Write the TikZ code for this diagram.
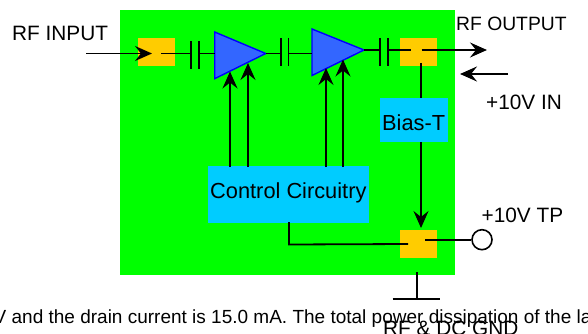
\documentclass[tikz,border=0pt]{standalone}
\usepackage{fontspec}
\setmainfont{Liberation Sans}
\usetikzlibrary{arrows.meta}
\definecolor{boardgreen}{RGB}{0,255,0}
\definecolor{padorange}{RGB}{255,204,0}
\definecolor{boxblue}{RGB}{0,204,255}
\definecolor{ampblue}{RGB}{51,102,255}
\tikzset{
  wire/.style={line width=1.8pt},
  feed/.style={line width=1.8pt,-{Stealth[length=17pt,width=15pt,inset=6pt]}},
  pad/.style={fill=padorange,minimum width=37pt,minimum height=28pt,inner sep=0pt},
  ctrl/.style={fill=boxblue,inner sep=0pt},
  amp/.style={draw=blue,fill=ampblue,line width=1.4pt},
  lbl/.style={inner sep=0pt,anchor=base west},
  big/.style={font=\fontsize{20.8}{25}\selectfont},
  bigger/.style={font=\fontsize{21.8}{26}\selectfont}
}
\begin{document}
\begin{tikzpicture}[x=1pt,y=-1pt]
\useasboundingbox (0,0) rectangle (588,334);

% Board
\fill[boardgreen] (120,10) rectangle (455,275);

% Pads
\node[pad] (padin) at (156,52) {};
\node[pad] (padout) at (418.5,52) {};
\node[pad] (padgnd) at (418.5,244) {};

% Boxes
\node[ctrl,minimum width=68pt,minimum height=44pt] (biast) at (414,120) {};
\node[ctrl,minimum width=161pt,minimum height=57pt] (control) at (288.5,194.5) {};

% Amplifiers
\coordinate (ampa) at (214.7,53.5);
\coordinate (ampaout) at (265.7,53.5);
\draw[amp] (214.7,32) -- (ampaout) -- (214.7,78.7) -- cycle;
\coordinate (ampb) at (312,53.5);
\coordinate (ampbout) at (364,50);
\draw[amp] (312,29) -- (ampbout) -- (312,75.5) -- cycle;

% Capacitors
\coordinate (capa) at (191,53.5);
\coordinate (capb) at (199,53.5);
\coordinate (capc) at (281,53.5);
\coordinate (capd) at (288.5,53.5);
\coordinate (cape) at (380,50);
\coordinate (capf) at (388,50);
\draw[wire] (191,41.5) -- (191,69);
\draw[wire] (199,41.5) -- (199,69);
\draw[wire] (281,38) -- (281,66);
\draw[wire] (288.5,38) -- (288.5,66);
\draw[wire] (380,38) -- (380,66);
\draw[wire] (388,38) -- (388,66);

% RF path
\coordinate (rfin) at (86,53.5);
\coordinate (rfintip) at (152,53.5);
\coordinate (rfstart) at (161,53.5);
\draw[feed] (rfin) -- (rfintip);
\draw[wire] (rfstart) -- (capa);
\draw[wire] (capb) -- (ampa);
\draw[wire] (ampaout) -- (capc);
\draw[wire] (capd) -- (ampb);
\draw[wire] (ampbout) -- (cape);
\coordinate (padoutl) at (411,50);
\coordinate (padoutr) at (421.5,50);
\coordinate (rfout) at (487,50);
\draw[wire] (capf) -- (padoutl);
\draw[feed] (padoutr) -- (rfout);

% Supply
\coordinate (supply) at (508,74);
\coordinate (supplytip) at (460,74);
\draw[feed] (supply) -- (supplytip);

% Control lines
\coordinate (gatea) at (230,71.5);
\coordinate (gateb) at (248,63);
\coordinate (gatec) at (326,68);
\coordinate (gated) at (343,59.5);
\draw[feed] (230,167) -- (gatea);
\draw[feed] (248,167) -- (gateb);
\draw[feed] (326,167) -- (gatec);
\draw[feed] (343,167) -- (gated);

% Bias lines
\draw[wire] (421,63) -- (421,98);
\coordinate (padgndtop) at (421,228);
\draw[feed] (421,142) -- (padgndtop);
\coordinate (ctrlout) at (289,222);
\coordinate (padgndl) at (408,244);
\draw[wire] (ctrlout) -- (289,244.5) -- (padgndl);

% Test point
\node[draw,circle,fill=white,line width=1.6pt,minimum size=20pt,inner sep=0pt] (tp) at (482,239.7) {};
\coordinate (padgndr) at (425,239.7);
\draw[wire] (padgndr) -- (tp);

% Ground
\coordinate (gndtop) at (417,272);
\coordinate (gndbar) at (417,299);
\draw[wire] (gndtop) -- (gndbar);
\draw[wire] (392.5,299) -- (440,299);

% Labels
\node[lbl,big] (inlabel) at (12,40.5) {RF INPUT};
\node[lbl,font=\fontsize{19.3}{23}\selectfont] (outlabel) at (456,31) {RF OUTPUT};
\node[lbl,big] (vinlabel) at (486,110) {+10V IN};
\node[lbl,big] (tplabel) at (481.5,222) {+10V TP};
\node[lbl,big] (gndlabel) at (383,335) {RF \& DC GND};
\node[lbl,bigger] (biaslabel) at (382,130) {Bias-T};
\node[lbl,bigger] (ctrllabel) at (210,198) {Control Circuitry};
\node[lbl,font=\fontsize{19}{23}\selectfont] (notelabel) at (-6.5,323) {V and the drain current is 15.0 mA. The total power dissipation of the la};

\end{tikzpicture}
\end{document}
